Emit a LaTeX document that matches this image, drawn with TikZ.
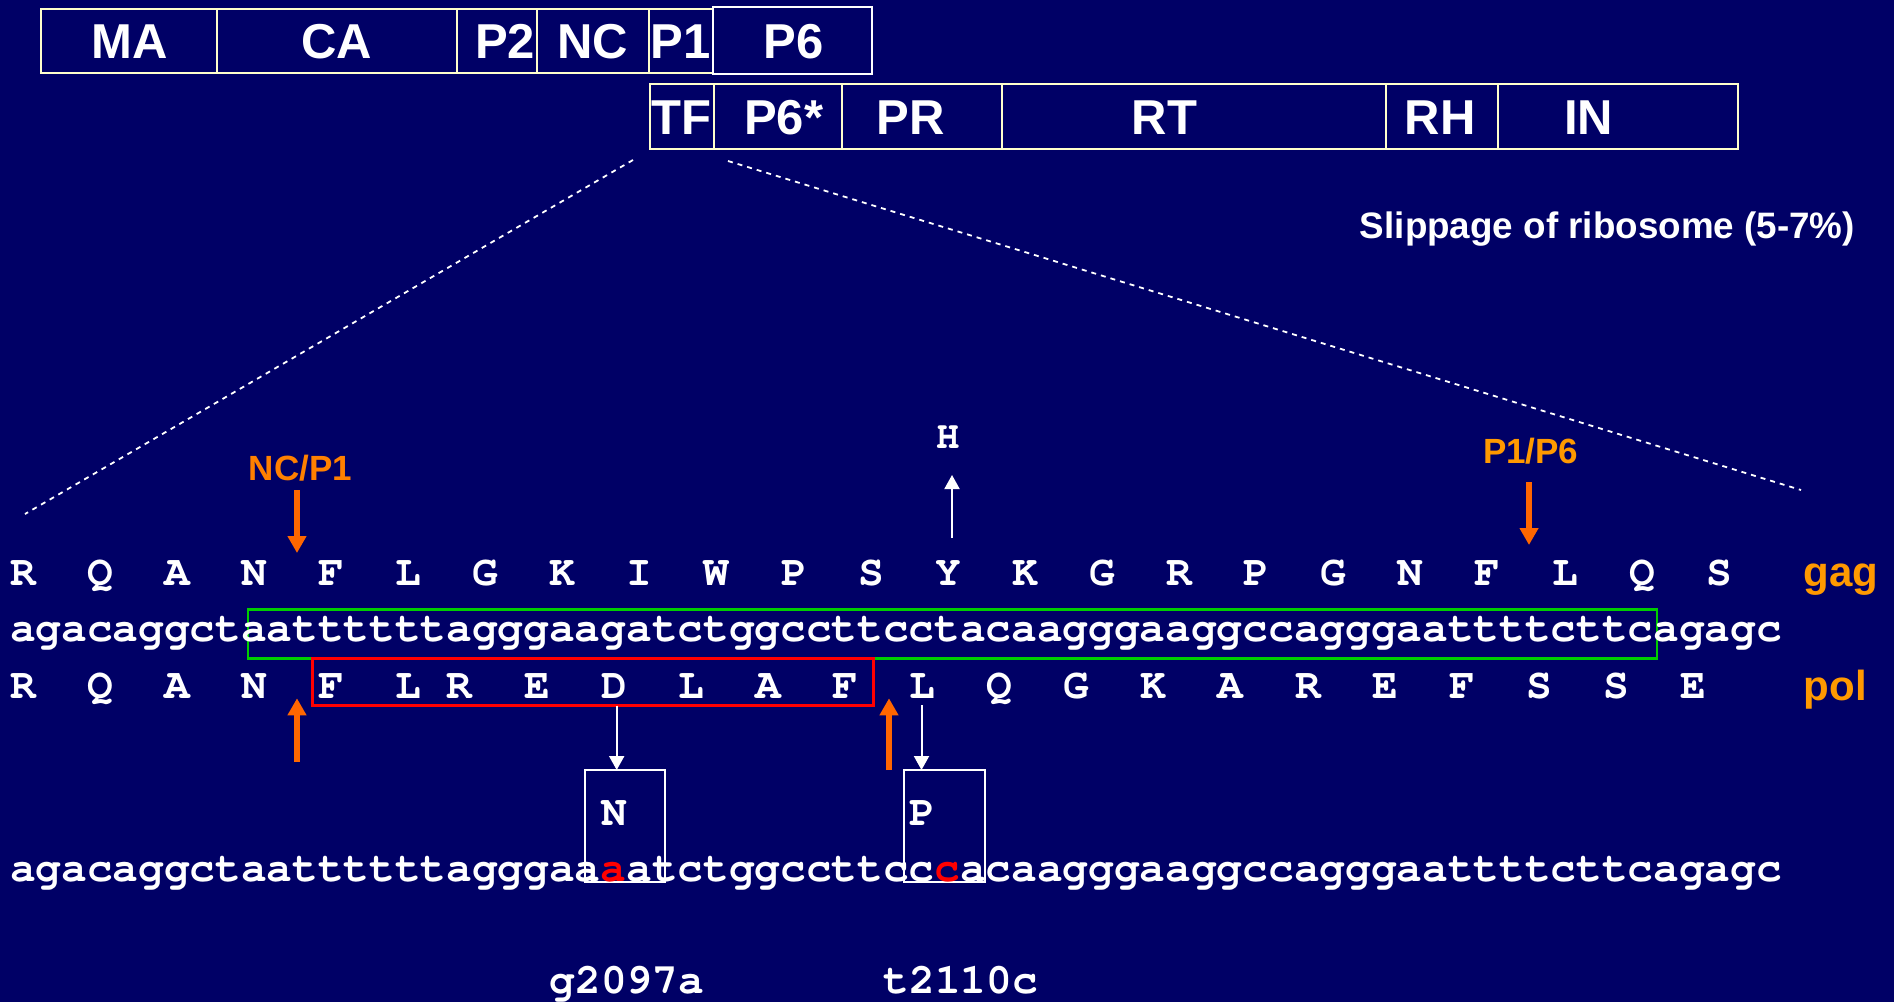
\documentclass[tikz,border=0pt]{standalone}
\usepackage{fontspec}
\setmainfont{Liberation Sans}
\newfontfamily\cour{texgyrecursor}[Extension=.otf,UprightFont=*-regular,BoldFont=*-bold]
\usetikzlibrary{arrows.meta}
\definecolor{bg}{RGB}{0,0,102}
\definecolor{boxline}{RGB}{255,255,204}
\definecolor{greenbox}{RGB}{0,204,0}
\definecolor{arrorange}{RGB}{255,102,0}
\definecolor{txtorange}{RGB}{255,128,0}
\definecolor{amber}{RGB}{255,153,0}
\tikzset{
  seq/.style={font=\cour\bfseries\fontsize{42.8}{50}\selectfont, text=white, inner sep=0pt, outer sep=0pt, anchor=base},
  boxlab/.style={font=\bfseries\fontsize{49}{55}\selectfont, text=white, inner sep=0pt, anchor=base},
  segbox/.style={draw=boxline, line width=2pt, inner sep=0pt, outer sep=0pt, anchor=north west},
  orlab/.style={font=\bfseries\fontsize{35}{40}\selectfont, inner sep=0pt, anchor=base},
  framelab/.style={font=\bfseries\fontsize{42}{48}\selectfont, text=amber, inner sep=0pt, anchor=base west},
  oarrow/.style={draw=arrorange, line width=5.5pt, -{Triangle[width=18pt,length=17pt]}},
  warrow/.style={draw=white, line width=2pt, -{Triangle[width=15pt,length=14pt]}},
  zoomline/.style={draw=white, line width=1.8pt, dash pattern=on 5pt off 5pt},
  mutbox/.style={draw=white, line width=2pt, inner sep=0pt, outer sep=0pt, anchor=north west},
}
\newcommand{\boxat}[6]{\node[#1, minimum width=#4pt, minimum height=#5pt] (#6) at (#2,#3) {};}
\begin{document}
\begin{tikzpicture}[x=1pt,y=-1pt]
\fill[bg] (0,0) rectangle (1894,1002);
\useasboundingbox (0,0) rectangle (1894,1002);

% gag polyprotein
\boxat{segbox}{41}{8.5}{176}{64}{bma}
\boxat{segbox}{217}{8.5}{240}{64}{bca}
\boxat{segbox}{457}{8.5}{80}{64}{bptwo}
\boxat{segbox}{537}{8.5}{112}{64}{bnc}
\boxat{segbox}{649}{8.5}{64}{64}{bpone}
\node[segbox, draw=white, minimum width=159pt, minimum height=66.5pt] (bpsix) at (713,7) {};
\node[boxlab] (lma) at (130,58.3) {MA};
\node[boxlab] (lca) at (336.7,58.3) {CA};
\node[boxlab] (lptwo) at (505,58.3) {P2};
\node[boxlab] (lnc) at (592.7,58.3) {NC};
\node[boxlab] (lpone) at (680.5,58.3) {P1};
\node[boxlab] (lpsix) at (793.6,58.3) {P6};

% pol polyprotein
\boxat{segbox}{650}{84}{64}{64.5}{btf}
\boxat{segbox}{714}{84}{128}{64.5}{bpsixs}
\boxat{segbox}{842}{84}{160}{64.5}{bpr}
\boxat{segbox}{1002}{84}{384}{64.5}{brt}
\boxat{segbox}{1386}{84}{112}{64.5}{brh}
\boxat{segbox}{1498}{84}{240}{64.5}{bin}
\node[boxlab] (ltf) at (681.7,134) {TF};
\node[boxlab] (lpsixs) at (783.6,134) {P6*};
\node[boxlab] (lpr) at (911,134) {PR};
\node[boxlab] (lrt) at (1164.5,134) {RT};
\node[boxlab] (lrh) at (1440,134) {RH};
\node[boxlab] (lin) at (1588.7,134) {IN};

\node[font=\bfseries\fontsize{36.8}{40}\selectfont, text=white, inner sep=0pt, anchor=base east] (slip) at (1855,238) {Slippage of ribosome (5-7\%)};

% zoom lines
\coordinate (zla) at (633,160);
\coordinate (zlb) at (25,514);
\coordinate (zra) at (728,161);
\coordinate (zrb) at (1801,490);
\draw[zoomline] (zla) -- (zlb);
\draw[zoomline] (zra) -- (zrb);

% frame boxes
\node[draw=greenbox, line width=2.5pt, inner sep=0pt, outer sep=0pt, anchor=north west, minimum width=1409pt, minimum height=48.8pt] (slipbox) at (248,609.5) {};
\node[draw=red, line width=2.5pt, inner sep=0pt, outer sep=0pt, anchor=north west, minimum width=560.6pt, minimum height=47.4pt] (fsbox) at (312.7,658.3) {};

% gag row
\foreach \L [count=\i] in {R,Q,A,N,F,L,G,K,I,W,P,S,Y,K,G,R,P,G,N,F,L,Q,S}
  \node[seq] (gag\i) at ({10+(3*\i-2.5)*25.7},585.7) {\L};
% DNA
\node[seq, anchor=base west] (dna) at (10,641.7) {agacaggctaattttttagggaagatctggccttcctacaagggaaggccagggaattttcttcagagc};
% pol row
\foreach \L/\k [count=\i] in {R/1,Q/4,A/7,N/10,F/13,L/16,R/18,E/21,D/24,L/27,A/30,F/33,L/36,Q/39,G/42,K/45,A/48,R/51,E/54,F/57,S/60,S/63,E/66}
  \node[seq] (pol\i) at ({10+(\k-0.5)*25.7},698.3) {\L};

\node[framelab] (gaglab) at (1803.5,586.7) {gag};
\node[framelab] (pollab) at (1803.5,700) {pol};

% cleavage sites
\node[orlab, text=txtorange] (ncpone) at (300.5,480) {NC/P1};
\node[orlab, text=amber] (ponepsix) at (1530.7,463.3) {P1/P6};
\coordinate (ncpa) at (297,490);
\coordinate (ncpb) at (297,553);
\coordinate (ppa) at (1529,482);
\coordinate (ppb) at (1529,545);
\draw[oarrow] (ncpa) -- (ncpb);
\draw[oarrow] (ppa) -- (ppb);
\coordinate (upa) at (297,761.7);
\coordinate (upb) at (297,698.3);
\coordinate (upc) at (889,770);
\coordinate (upd) at (889,698.3);
\draw[oarrow] (upa) -- (upb);
\draw[oarrow] (upc) -- (upd);

% H
\node[seq, font=\cour\bfseries\fontsize{39}{45}\selectfont] (hlab) at (948.5,448) {H};
\coordinate (hbot) at (952,538);
\coordinate (htip) at (952,475);
\draw[warrow] (hbot) -- (htip);

% mutation boxes
\node[mutbox, minimum width=80.3pt, minimum height=112.3pt] (nbox) at (585,770) {};
\node[mutbox, minimum width=81pt, minimum height=112.3pt] (pbox) at (904.3,770) {};
\node[seq] (nlab) at (614.5,825) {N};
\node[seq] (plab) at (922.4,825) {P};
\draw[warrow] (fsbox.south -| 616.7,0) -- (nbox.north -| 616.7,0);
\coordinate (lstart) at (921.5,705);
\draw[warrow] (lstart) -- (pbox.north -| lstart);

% mutated DNA
\node[seq, anchor=base west] (mdna) at (10,881.7) {agacaggctaattttttagggaa\textcolor{red}{a}atctggccttcc\textcolor{red}{c}acaagggaaggccagggaattttcttcagagc};

\node[seq, anchor=base west] (muta) at (549.7,993) {g2097a};
\node[seq, anchor=base west] (mutb) at (883.8,993) {t2110c};
\end{tikzpicture}
\end{document}
